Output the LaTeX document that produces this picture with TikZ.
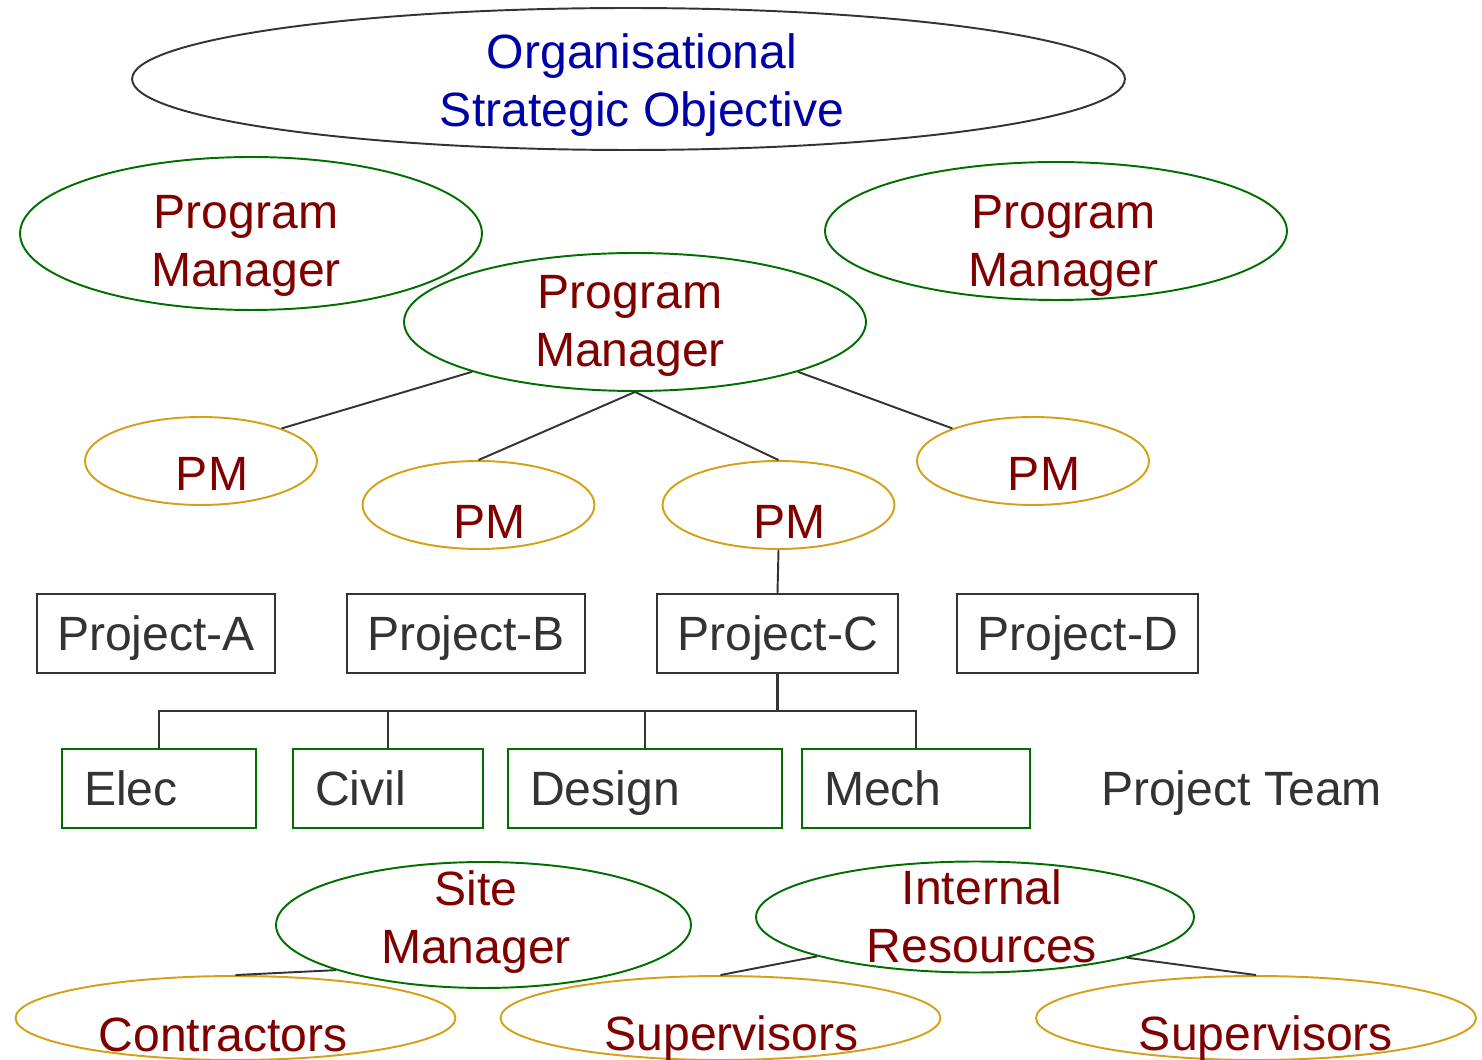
\documentclass[tikz,border=0pt]{standalone}
\usepackage{fontspec}
\setmainfont{Liberation Sans}
\usetikzlibrary{shapes.geometric}
\definecolor{objblue}{RGB}{0,0,168}
\definecolor{rolered}{RGB}{128,0,0}
\definecolor{mgrgreen}{RGB}{0,110,0}
\definecolor{pmgold}{RGB}{214,160,20}
\definecolor{linegray}{RGB}{51,51,51}
\tikzset{
  oval/.style={draw, ellipse, inner sep=0pt, line width=1.1pt},
  objective/.style={oval, draw=linegray, minimum width=19.86cm, minimum height=2.84cm},
  progmgr/.style={oval, draw=mgrgreen, minimum width=9.24cm, minimum height=2.76cm},
  pm/.style={oval, draw=pmgold, minimum width=4.64cm, minimum height=1.76cm},
  resource/.style={oval, draw=pmgold, minimum width=8.8cm, minimum height=1.68cm},
  project/.style={draw=linegray, line width=1.2pt, text=linegray, inner sep=0pt, text depth=0pt, minimum height=1.58cm},
  team/.style={draw=mgrgreen, line width=1.2pt, text=linegray, inner xsep=0.44cm, inner ysep=0pt, text depth=0pt, align=left, minimum height=1.58cm},
  roletext/.style={text=rolered, align=center, inner sep=0pt},
  link/.style={draw=linegray, line width=1.1pt},
}

\begin{document}
\begin{tikzpicture}[x=0.02cm, y=-0.02cm, font=\fontsize{27.4}{32.8}\selectfont]
  \useasboundingbox (0,0) rectangle (1482,1060);

  % strategy and programs
  \node[objective] (obj) at (628.5,79) {};
  \node[text=objblue, align=center, inner sep=0pt] (objtext) at (642,85) {Organisational\\Strategic Objective};
  \node[progmgr, minimum height=3.06cm] (pgml) at (251,233.5) {};
  \node[roletext] (pgmltext) at (246,246) {Program\\Manager};
  \node[progmgr] (pgmr) at (1056,231) {};
  \node[roletext] (pgmrtext) at (1063.5,246) {Program\\Manager};
  \node[progmgr] (pgmc) at (635,322) {};
  \node[roletext] (pgmctext) at (630,326) {Program\\Manager};

  % project managers
  \node[pm] (pm1) at (201,461) {};
  \node[roletext, anchor=base] (pm1text) at (212,490.5) {PM};
  \node[pm] (pm2) at (478.5,505) {};
  \node[roletext, anchor=base] (pm2text) at (489.5,539) {PM};
  \node[pm] (pm3) at (778.5,505) {};
  \node[roletext, anchor=base] (pm3text) at (789.5,539) {PM};
  \node[pm] (pm4) at (1033,461) {};
  \node[roletext, anchor=base] (pm4text) at (1044,490.5) {PM};

  \draw[link] (pgmc.197) -- (pm1.22);
  \draw[link] (pgmc.south) -- (pm2.north);
  \draw[link] (pgmc.south) -- (pm3.north);
  \draw[link] (pgmc.343) -- (pm4.158);

  % projects
  \node[project, minimum width=4.76cm] (proja) at (156,633.5) {Project-A};
  \node[project, minimum width=4.76cm] (projb) at (466,633.5) {Project-B};
  \node[project, minimum width=4.82cm] (projc) at (777.5,633.5) {Project-C};
  \node[project, minimum width=4.82cm] (projd) at (1077.5,633.5) {Project-D};
  \draw[link] (pm3.south) -- (projc.north);

  % project team
  \node[team, text width=3.0cm] (elec) at (159,788.5) {Elec};
  \node[team, text width=2.92cm] (civil) at (388,788.5) {Civil};
  \node[team, text width=4.6cm] (design) at (645,788.5) {Design};
  \node[team, text width=3.68cm] (mech) at (916,788.5) {Mech};
  \node[text=linegray, anchor=base, inner sep=0pt] (teamlabel) at (1241.5,806) {Project Team};

  \coordinate (bus) at (777.5,711);
  \draw[link, line width=1.6pt] (projc.south) -- (bus);
  \draw[link] (elec.north) -- (elec.north |- bus) -- (mech.north |- bus) -- (mech.north);
  \draw[link] (civil.north) -- (civil.north |- bus);
  \draw[link] (design.north) -- (design.north |- bus);

  % site resources
  \node[oval, draw=mgrgreen, minimum width=8.3cm, minimum height=2.52cm] (site) at (483.5,925) {};
  \node[roletext] (sitetext) at (476,922) {Site\\Manager};
  \node[oval, draw=mgrgreen, minimum width=8.76cm, minimum height=2.22cm] (intres) at (975,917) {};
  \node[roletext] (intrestext) at (982,916.5) {Internal\\Resources};

  \node[resource] (contr) at (235.5,1018) {};
  \node[roletext, anchor=base] (contrtext) at (223,1051) {Contractors};
  \node[resource] (supa) at (720.5,1018) {};
  \node[roletext, anchor=base] (supatext) at (731.5,1050) {Supervisors};
  \node[resource] (supb) at (1256,1018) {};
  \node[roletext, anchor=base] (supbtext) at (1266,1050) {Supervisors};

  \draw[link] (site.197) -- (contr.north);
  \draw[link] (intres.194.5) -- (supa.north);
  \draw[link] (intres.345.5) -- (supb.north);
\end{tikzpicture}
\end{document}
